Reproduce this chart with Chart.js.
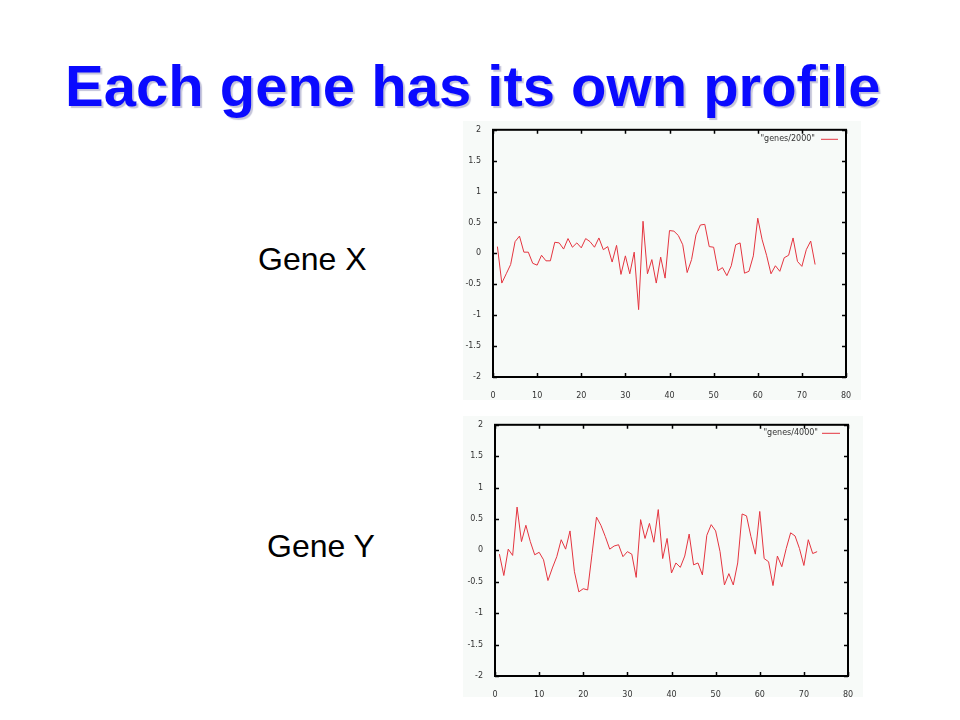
<!DOCTYPE html>
<html>
<head>
<meta charset="utf-8">
<script src="https://cdn.jsdelivr.net/npm/chart.js@4.4.0/dist/chart.umd.min.js"></script>
<style>
  body { margin: 0; width: 960px; height: 720px; background: #fff; position: relative; overflow: hidden; font-family: "Liberation Sans", Arial, sans-serif; }
  .title { position: absolute; left: 65px; top: 57px; font-size: 58px; line-height: 58px; font-weight: bold; color: #0a0aff; white-space: nowrap; text-shadow: 2px 2px 1px #c4c4da; }
  .gene { position: absolute; font-size: 32px; line-height: 32px; color: #000; white-space: nowrap; }
  .panel { position: absolute; background: #f7faf8; }
</style>
</head>
<body>
<div class="title">Each gene has its own profile</div>
<div class="gene" style="left:258px; top:243px;">Gene X</div>
<div class="gene" style="left:267px; top:530px;">Gene Y</div>
<div class="panel" style="left:463px; top:121px; width:398px; height:279px;"><canvas id="chartX"></canvas></div>
<div class="panel" style="left:463px; top:416px; width:400px; height:281px;"><canvas id="chartY"></canvas></div>
<script>
// expression profiles (samples 1..73)
const geneX = [0.11, -0.48, -0.33, -0.18, 0.19, 0.28, 0.02, 0.02, -0.16, -0.19,
  -0.03, -0.12, -0.12, 0.18, 0.17, 0.07, 0.24, 0.10, 0.17, 0.09,
  0.24, 0.19, 0.10, 0.25, 0.06, 0.11, -0.14, 0.13, -0.34, -0.04,
  -0.33, 0.02, -0.91, 0.52, -0.33, -0.10, -0.48, -0.06, -0.40, 0.37,
  0.36, 0.29, 0.14, -0.31, -0.10, 0.30, 0.46, 0.47, 0.11, 0.10,
  -0.28, -0.23, -0.36, -0.20, 0.14, 0.17, -0.32, -0.29, -0.04, 0.57,
  0.22, -0.03, -0.33, -0.20, -0.29, -0.07, -0.03, 0.25, -0.13, -0.21,
  0.06, 0.20, -0.18];
const geneY = [-0.06, -0.40, 0.02, -0.08, 0.69, 0.14, 0.40, 0.14, -0.07, -0.03,
  -0.15, -0.48, -0.28, -0.10, 0.17, 0.02, 0.31, -0.34, -0.66, -0.61,
  -0.63, -0.05, 0.53, 0.40, 0.22, 0.02, 0.07, 0.09, -0.10, -0.02,
  -0.06, -0.43, 0.49, 0.19, 0.43, 0.13, 0.65, -0.13, 0.19, -0.36,
  -0.20, -0.27, -0.09, 0.26, -0.23, -0.20, -0.39, 0.24, 0.41, 0.31,
  -0.02, -0.55, -0.37, -0.55, -0.20, 0.58, 0.55, 0.22, -0.06, 0.62,
  -0.13, -0.18, -0.56, -0.09, -0.26, 0.03, 0.28, 0.23, 0.03, -0.24,
  0.17, -0.05, -0.02];
const xTicks = [0, 10, 20, 30, 40, 50, 60, 70, 80];
const yTicks = [-2, -1.5, -1, -0.5, 0, 0.5, 1, 1.5, 2];

const tickFont = { family: "'DejaVu Sans'", size: 8 };
const lineColor = '#e4343f';

// gnuplot-like frame: border box, inward ticks on all sides, key at top right
const gnuplotFrame = {
  id: 'gnuplotFrame',
  afterDatasetsDraw(chart, args, opts) {
    const { ctx, chartArea: a, scales } = chart;
    const t = 4;
    ctx.save();
    ctx.strokeStyle = '#000';
    ctx.lineWidth = 1.5;
    ctx.beginPath();
    xTicks.forEach(v => {
      const px = Math.round(scales.x.getPixelForValue(v)) + 0.5;
      ctx.moveTo(px, a.bottom); ctx.lineTo(px, a.bottom - t);
      ctx.moveTo(px, a.top); ctx.lineTo(px, a.top + t);
    });
    yTicks.forEach(v => {
      const py = Math.round(scales.y.getPixelForValue(v)) + 0.5;
      ctx.moveTo(a.left, py); ctx.lineTo(a.left + t, py);
      ctx.moveTo(a.right, py); ctx.lineTo(a.right - t, py);
    });
    ctx.stroke();
    ctx.lineWidth = 2;
    ctx.strokeRect(a.left, a.top, a.right - a.left, a.bottom - a.top);
    // key
    const ds = chart.data.datasets[0];
    const ky = a.top + opts.keyY;
    ctx.font = "8px 'DejaVu Sans'";
    ctx.fillStyle = '#333';
    ctx.textAlign = 'right';
    ctx.textBaseline = 'middle';
    ctx.fillText('"' + ds.label + '"', a.right - opts.keyText, ky);
    ctx.strokeStyle = ds.borderColor;
    ctx.lineWidth = 1;
    ctx.beginPath();
    ctx.moveTo(a.right - opts.keyLine, ky + 0.5);
    ctx.lineTo(a.right - 8, ky + 0.5);
    ctx.stroke();
    ctx.restore();
  }
};

function makeChart(id, label, values, box) {
  const points = values.map((v, i) => ({ x: i + 1, y: v }));
  return new Chart(document.getElementById(id), {
    type: 'line',
    data: {
      datasets: [{
        label: label,
        data: points,
        borderColor: lineColor,
        borderWidth: 1,
        pointRadius: 0,
        tension: 0,
        fill: false
      }]
    },
    options: {
      responsive: true,
      maintainAspectRatio: false,
      animation: false,
      layout: { padding: { top: box.top, right: box.right, left: 0, bottom: 0 } },
      plugins: {
        legend: { display: false },
        tooltip: { enabled: false },
        gnuplotFrame: { keyY: box.keyY, keyText: box.keyText, keyLine: box.keyLine }
      },
      scales: {
        x: {
          type: 'linear',
          min: 0, max: 80,
          grid: { display: false },
          border: { display: false },
          afterBuildTicks: s => { s.ticks = xTicks.map(v => ({ value: v })); },
          afterFit: s => { s.height = box.bottom; },
          ticks: { font: tickFont, color: '#333', padding: 6, maxRotation: 0, callback: v => String(v) }
        },
        y: {
          type: 'linear',
          min: -2, max: 2,
          grid: { display: false },
          border: { display: false },
          afterBuildTicks: s => { s.ticks = yTicks.map(v => ({ value: v })); },
          afterFit: s => { s.width = box.left; },
          ticks: { font: tickFont, color: '#333', padding: 4, callback: v => String(v) }
        }
      }
    },
    plugins: [gnuplotFrame]
  });
}

makeChart('chartX', 'genes/2000', geneX, { top: 3, right: 15, left: 30, bottom: 23, keyY: 9, keyText: 31, keyLine: 25 });
makeChart('chartY', 'genes/4000', geneY, { top: 6, right: 15, left: 32, bottom: 21, keyY: 8, keyText: 30, keyLine: 26 });
</script>
</body>
</html>
